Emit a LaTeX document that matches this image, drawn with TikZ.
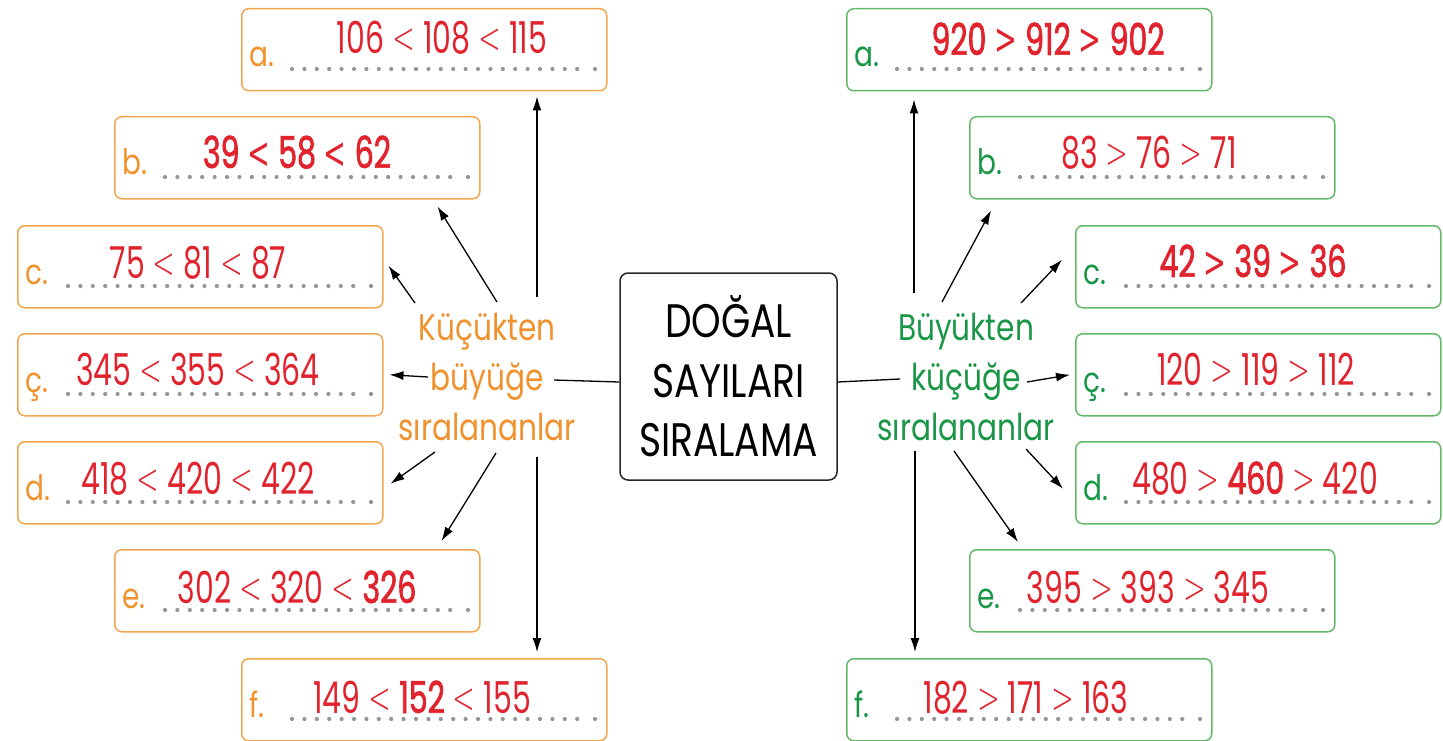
\documentclass[tikz,border=0pt]{standalone}
\usepackage{fontspec}
\setmainfont{Poppins}
\newfontfamily\yazi[FakeStretch=0.8]{Poppins}
\newfontfamily\rakam[FakeStretch=0.68]{Poppins}
\newfontfamily\rakamk[FakeStretch=0.68,FakeBold=1.6]{Poppins}
\newfontfamily\isaret[FakeStretch=0.62]{DejaVu Sans ExtraLight}
\newfontfamily\isaretk[FakeStretch=0.62]{DejaVu Sans}
\usetikzlibrary{arrows.meta}
\definecolor{turuncu}{RGB}{240,146,45}
\definecolor{turuncuK}{RGB}{244,165,80}
\definecolor{yesil}{RGB}{25,150,70}
\definecolor{yesilK}{RGB}{100,185,105}
\definecolor{kirmizi}{RGB}{225,35,45}
\definecolor{nokta}{RGB}{150,150,150}
\let\isaretf\isaret
\newcommand{\kc}{{\isaretf <}}
\newcommand{\bc}{{\isaretf >}}
\newcommand{\kal}[1]{{\rakamk\let\isaretf\isaretk #1}}
\begin{document}
\begin{tikzpicture}[x=1pt,y=-1pt]
  \tikzstyle{kutu}=[line width=1.5pt, rounded corners=7pt, minimum width=365pt, minimum height=82pt, inner sep=0pt, anchor=north west]
  \tikzstyle{harf}=[font=\yazi\fontsize{35}{35}\selectfont, anchor=base west, inner sep=0pt]
  \tikzstyle{cevap}=[font=\rakam\fontsize{44}{44}\selectfont, text=kirmizi, anchor=base, inner sep=0pt]
  \tikzstyle{etiket}=[font=\yazi\fontsize{37}{37}\selectfont, anchor=base, inner sep=0pt]
  \tikzstyle{ok}=[-{Latex[length=14pt,width=9pt]}, line width=1.3pt]
  \tikzstyle{cizgi}=[line width=1.3pt]
  \useasboundingbox (0,0) rectangle (1443,741);

  % orta kutu
  \node[draw=black!85, line width=1.5pt, rounded corners=8pt, minimum width=217pt, minimum height=207pt,
        align=center, font=\yazi\fontsize{47}{59.5}\selectfont] (merkez) at (728.5,376.5) {DOĞAL\\SAYILARI\\SIRALAMA};

  % sol kutular (kucukten buyuge)
  \foreach \ad/\h/\x/\y/\cx/\dy/\c in {la/a./241/8/442/46/{106 \kc{} 108 \kc{} 115},
      lb/b./114/116/297/52/{\kal{39 \kc{} 58 \kc{} 62}},
      lc/c./17/225/198/53/{75 \kc{} 81 \kc{} 87},
      lcc/ç./17/333/198/52/{345 \kc{} 355 \kc{} 364},
      ld/d./17/441/198/53/{418 \kc{} 420 \kc{} 422},
      le/e./114/549/297/54/{302 \kc{} 320 \kc{} \kal{326}},
      lf/f./241/658/422/55/{149 \kc{} \kal{152} \kc{} 155}} {
    \node[kutu, draw=turuncuK] (\ad) at (\x,\y) {};
    \node[harf, text=turuncu] (\ad h) at (\x+8,\y+59) {\h};
    \foreach \k in {0,...,23} \fill[nokta] (\x+51+\k*12.4,\y+61) circle (2.1pt);
    \fill[nokta] (\x+354,\y+61) circle (2.1pt);
    \node[cevap] (\ad c) at (\cx,\y+\dy) {\c};
  }

  % sag kutular (buyukten kucuge)
  \foreach \ad/\h/\x/\y/\cx/\dy/\c in {ra/a./846/8/1048/47/{\kal{920 \bc{} 912 \bc{} 902}},
      rb/b./969/116/1149/52/{83 \bc{} 76 \bc{} 71},
      rc/c./1075/225/1253/52/{\kal{42 \bc{} 39 \bc{} 36}},
      rcc/ç./1075/333/1256/52/{120 \bc{} 119 \bc{} 112},
      rd/d./1075/441/1255/53/{480 \bc{} \kal{460} \bc{} 420},
      re/e./969/549/1148/54/{395 \bc{} 393 \bc{} 345},
      rf/f./846/658/1026/55/{182 \bc{} 171 \bc{} 163}} {
    \node[kutu, draw=yesilK] (\ad) at (\x,\y) {};
    \node[harf, text=yesil] (\ad h) at (\x+8,\y+59) {\h};
    \foreach \k in {0,...,23} \fill[nokta] (\x+51+\k*12.4,\y+61) circle (2.1pt);
    \fill[nokta] (\x+354,\y+61) circle (2.1pt);
    \node[cevap] (\ad c) at (\cx,\y+\dy) {\c};
  }

  % etiketler
  \node[etiket, text=turuncu] (kb1) at (487,340) {Küçükten};
  \node[etiket, text=turuncu] (kb2) at (487,390) {büyüğe};
  \node[etiket, text=turuncu] (kb3) at (487,440) {sıralananlar};
  \node[etiket, text=yesil] (bk1) at (966,340) {Büyükten};
  \node[etiket, text=yesil] (bk2) at (966,390) {küçüğe};
  \node[etiket, text=yesil] (bk3) at (966,440) {sıralananlar};

  % ok baslari
  \coordinate (k0) at (554,380);
  \coordinate (k1) at (537,297);
  \coordinate (k2) at (497,302);
  \coordinate (k3) at (415,303);
  \coordinate (k4) at (428,377);
  \coordinate (k5) at (435,452);
  \coordinate (k6) at (496,453);
  \coordinate (k7) at (537,457);
  \coordinate (b0) at (900,379);
  \coordinate (b1) at (914,293);
  \coordinate (b2) at (942,302);
  \coordinate (b3) at (1021,303);
  \coordinate (b4) at (1027,382);
  \coordinate (b5) at (1026,449);
  \coordinate (b6) at (954,451);
  \coordinate (b7) at (915,451);

  % baglantilar
  \draw[cizgi] (k0) -- ([yshift=-5.5pt]merkez.west);
  \draw[cizgi] ([yshift=-5.5pt]merkez.east) -- (b0);
  \draw[ok, shorten >=5pt] (k1) -- (k1 |- la.south);
  \draw[ok] (k2) -- ([xshift=-43pt,yshift=-7pt]lb.south east);
  \draw[ok] (k3) -- ([xshift=5pt,yshift=1pt]lc.east);
  \draw[ok] (k4) -- ([xshift=6pt]lcc.east);
  \draw[ok] (k5) -- ([xshift=7pt,yshift=-1pt]ld.east);
  \draw[ok] (k6) -- ([xshift=-39pt,yshift=8pt]le.north east);
  \draw[ok, shorten >=6pt] (k7) -- (k7 |- lf.north);
  \draw[ok, shorten >=8pt] (b1) -- (b1 |- ra.south);
  \draw[ok] (b2) -- ([xshift=22pt,yshift=-11pt]rb.south west);
  \draw[ok] (b3) -- ([xshift=-13pt,yshift=7pt]rc.west);
  \draw[ok] (b4) -- ([xshift=-5pt]rcc.west);
  \draw[ok] (b5) -- ([xshift=-12pt,yshift=-6pt]rd.west);
  \draw[ok] (b6) -- ([xshift=49pt,yshift=7pt]re.north west);
  \draw[ok, shorten >=6pt] (b7) -- (b7 |- rf.north);
\end{tikzpicture}
\end{document}
